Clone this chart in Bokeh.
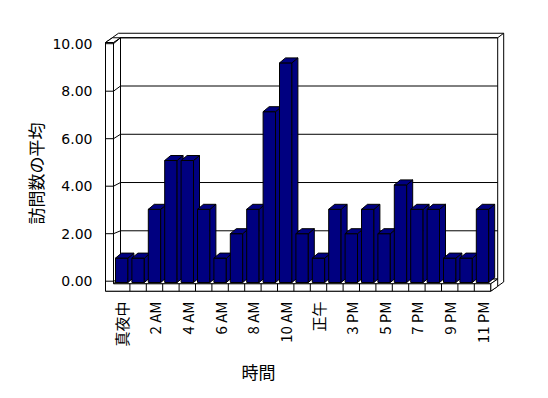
import math
from bokeh.plotting import figure
from bokeh.models import Range1d, LinearAxis, FixedTicker, Title, NumeralTickFormatter
from bokeh.embed import file_html
from bokeh.resources import INLINE

# ---------------- data ----------------
hours = ["真夜中", "1 AM", "2 AM", "3 AM", "4 AM", "5 AM", "6 AM", "7 AM", "8 AM",
         "9 AM", "10 AM", "11 AM", "正午", "2 PM", "3 PM", "4 PM", "5 PM", "6 PM",
         "7 PM", "8 PM", "9 PM", "10 PM", "11 PM"]
visits = [1, 1, 3, 5, 5, 3, 1, 2, 3, 7, 9, 2, 1, 3, 2, 3, 2, 4, 3, 3, 1, 1, 3]
y_ticks = [0, 2, 4, 6, 8, 10]
x_title = "時間"
y_title = "訪問数の平均"

# ---------------- layout constants (pixels) ----------------
W, H = 548, 398
FL, FR, FTOP, FBOT = 100, 512, 26, 296
CAT_X0, CAT_W = 121.2, 16.4      # centre of first category, category width
BAR_Y0, BAR_K = 282.0, 24.4      # bar scale
WALL_Y0, WALL_K = 280.7, 23.75   # wall / value-axis scale


def x_of(px):
    return (px - CAT_X0) / CAT_W


def yb_of(py):
    return (BAR_Y0 - py) / BAR_K


def yw_of(py):
    return (WALL_Y0 - py) / WALL_K


p = figure(width=W, height=H,
           x_range=Range1d(x_of(FL), x_of(FR)),
           y_range=Range1d(yb_of(FBOT), yb_of(FTOP)),
           x_axis_type=None, y_axis_type=None,
           output_backend="svg", toolbar_location=None,
           min_border_left=FL, min_border_right=W - FR,
           min_border_top=FTOP, min_border_bottom=H - FBOT)
p.extra_y_ranges = {"wall": Range1d(yw_of(FBOT), yw_of(FTOP))}
p.outline_line_color = None
p.background_fill_color = "white"
p.border_fill_color = "white"

N = len(hours)
YMAX = y_ticks[-1]
x_in = -0.5
x_end = N - 0.5
x_out = x_of(105)
DX, DX2 = 7 / CAT_W, 6 / CAT_W
DW, DW2 = 4.75 / WALL_K, 4.5 / WALL_K
FB = yw_of(290.7)
FTp = yw_of(283.3)
WT = yw_of(42)

wall_style = dict(fill_color="white", line_color="black", line_width=1, y_range_name="wall")

# silhouette (back slab + sides)
p.patch([x_out, x_end, x_end + DX + DX2, x_end + DX + DX2, x_out + DX + DX2, x_out],
        [FB, FB, FB + DW + DW2, WT + DW + DW2, WT + DW + DW2, WT], **wall_style)
# back wall face
p.patch([x_in + DX, x_end + DX, x_end + DX, x_in + DX],
        [FTp + DW, FTp + DW, WT + DW, WT + DW], **wall_style)


def wb(v):
    return FTp + DW + v * (WT - FTp) / YMAX


# gridlines on back wall
gv = [v for v in y_ticks if v > 0]
p.segment(x0=[x_in + DX] * len(gv), y0=[wb(v) for v in gv],
          x1=[x_end + DX] * len(gv), y1=[wb(v) for v in gv],
          line_color="black", line_width=1, y_range_name="wall")
# left wall inner face
p.patch([x_in, x_in, x_in + DX, x_in + DX], [FTp, WT, WT + DW, FTp + DW], **wall_style)
# floor top
p.patch([x_in, x_end, x_end + DX, x_in + DX], [FTp, FTp, FTp + DW, FTp + DW], **wall_style)
# floor right side
p.patch([x_end, x_end, x_end + DX, x_end + DX], [FB, FTp, FTp + DW, FB + DW], **wall_style)
# front L (left wall front + floor front)
p.patch([x_out, x_end, x_end, x_in, x_in, x_out], [FB, FB, FTp, FTp, WT, WT], **wall_style)
# left wall top
p.patch([x_out, x_in, x_in + DX, x_out + DX], [WT, WT, WT + DW, WT + DW], **wall_style)
# top-right corner diagonal
p.segment(x0=[x_end + DX], y0=[WT + DW], x1=[x_end + DX + DX2], y1=[WT + DW + DW2],
          line_color="black", y_range_name="wall")

# value ticks on left wall + connectors to back wall
p.segment(x0=[x_out] * len(y_ticks), y0=y_ticks, x1=[x_in] * len(y_ticks), y1=y_ticks,
          line_color="black", y_range_name="wall")
p.segment(x0=[x_in] * len(y_ticks), y0=y_ticks, x1=[x_in + DX] * len(y_ticks),
          y1=[wb(v) for v in y_ticks], line_color="black", y_range_name="wall")

# category ticks on floor front
bx = [i - 0.5 for i in range(1, N)]
p.segment(x0=bx, y0=[FB] * len(bx), x1=bx, y1=[FTp] * len(bx),
          line_color="black", y_range_name="wall")

# 3D bars
BAR_OFF, BAR_W = 2 / CAT_W, 12.4 / CAT_W
BDX, BDY = 6 / CAT_W, 5 / BAR_K
xs, ys = [], []
for i, v in enumerate(visits):
    l = i - 0.5 + BAR_OFF
    r = l + BAR_W
    xs += [[l, r, r, l], [r, r + BDX, r + BDX, r], [l, r, r + BDX, l + BDX]]
    ys += [[0, 0, v, v], [0, BDY, v + BDY, v], [v, v, v + BDY, v + BDY]]
p.patches(xs, ys, fill_color="#000080", line_color="black", line_width=1)

# axes (labels only)
yaxis = LinearAxis(y_range_name="wall", ticker=FixedTicker(ticks=y_ticks),
                   formatter=NumeralTickFormatter(format="0.00"))
yaxis.axis_line_color = None
yaxis.major_tick_line_color = None
yaxis.minor_tick_line_color = None
yaxis.major_tick_in = 0
yaxis.major_tick_out = 0
yaxis.major_label_standoff = 8
yaxis.major_label_text_font = "DejaVu Sans"
yaxis.major_label_text_font_size = "14px"
yaxis.major_label_text_color = "black"
p.add_layout(yaxis, "left")

xt = list(range(0, N, 2))
xaxis = LinearAxis(ticker=FixedTicker(ticks=xt),
                   major_label_overrides={i: hours[i] for i in xt})
xaxis.axis_line_color = None
xaxis.major_tick_line_color = None
xaxis.minor_tick_line_color = None
xaxis.major_tick_in = 0
xaxis.major_tick_out = 0
xaxis.major_label_standoff = 5
xaxis.major_label_orientation = math.pi / 2
xaxis.major_label_text_font = "Noto Sans CJK JP"
xaxis.major_label_text_font_size = "15px"
xaxis.major_label_text_color = "black"
p.add_layout(xaxis, "below")

p.add_layout(Title(text=x_title, align="left", offset=141, standoff=14,
                   text_font="Noto Sans CJK JP", text_font_size="17px",
                   text_font_style="normal", text_color="black"), "below")
p.add_layout(Title(text=y_title, align="left", offset=72, standoff=3,
                   text_font="Noto Sans CJK JP", text_font_size="17px",
                   text_font_style="normal", text_color="black"), "left")

open("out.html", "w").write(file_html(p, INLINE))
